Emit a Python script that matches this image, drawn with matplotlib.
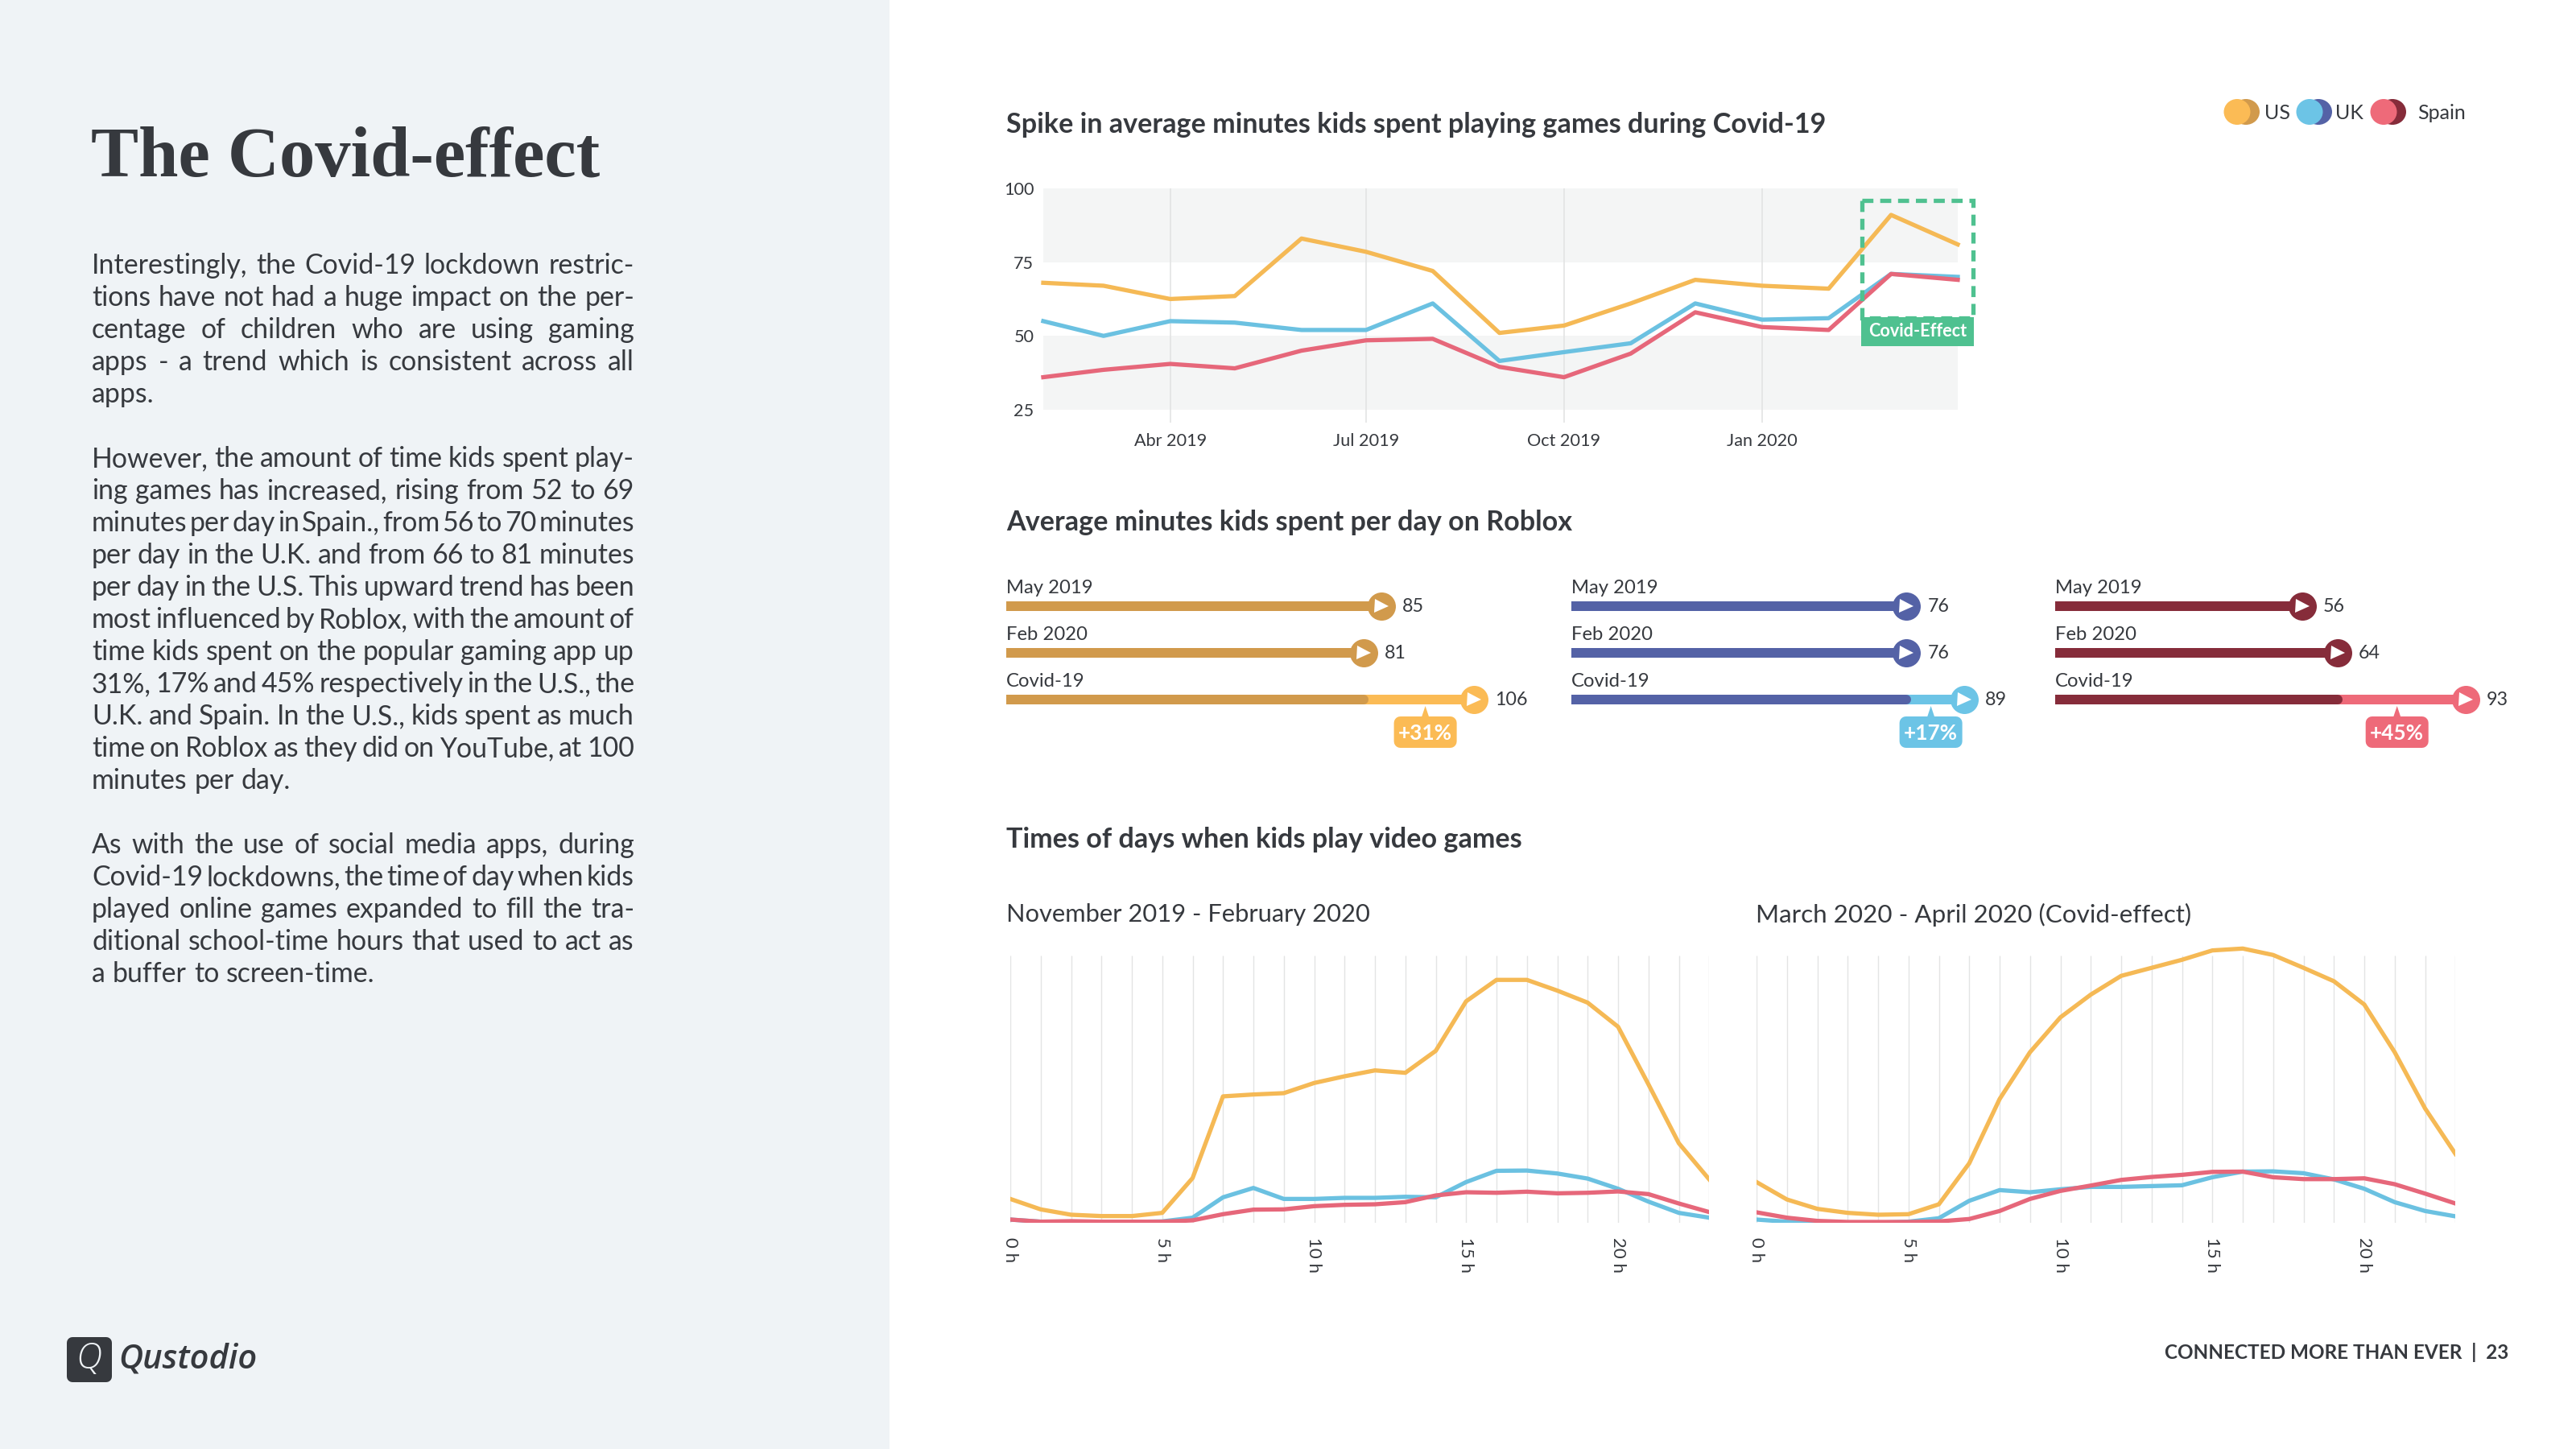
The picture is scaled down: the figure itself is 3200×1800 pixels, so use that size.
"""Qustodio report page: the Covid-effect on kids playing games."""
import matplotlib

matplotlib.use("Agg")
import matplotlib.pyplot as plt
import pandas as pd
from matplotlib.patches import Ellipse, FancyBboxPatch, Polygon, Rectangle

plt.rcParams["font.family"] = ["Lato", "DejaVu Sans"]

# monthly average minutes, line chart on top
months = pd.date_range("2019-02-01", "2020-04-01", freq="MS")
month_ticks = ["2019-04-01", "2019-07-01", "2019-10-01", "2020-01-01"]
month_tick_labels = ["Abr 2019", "Jul 2019", "Oct 2019", "Jan 2020"]
minutes_us = [68, 67, 62.5, 63.5, 83, 78.5, 72, 51, 53.5, 61, 69, 67, 66, 91, 81]
minutes_uk = [55, 50, 55, 54.5, 52, 52, 61, 41.5, 44.5, 47.5, 61, 55.5, 56, 71, 70]
minutes_es = [36, 38.5, 40.5, 39, 45, 48.5, 49, 39.5, 36, 44, 58, 53, 52, 71, 69]

# roblox bars
roblox_rows = ["May 2019", "Feb 2020", "Covid-19"]
roblox_us = [85, 81, 106]
roblox_uk = [76, 76, 89]
roblox_es = [56, 64, 93]
roblox_change = ["+31%", "+17%", "+45%"]

# time of day, index of activity per hour
hours = list(range(24))
hour_ticks = [0, 5, 10, 15, 20]
hour_tick_labels = ["0 h", "5 h", "10 h", "15 h", "20 h"]
before_us = [9.0, 5.1, 3.1, 2.6, 2.6, 3.8, 16.8, 47.3, 48, 48.5, 52.3, 54.8,
             57, 56.1, 64.3, 82.8, 90.8, 90.8, 86.8, 82.3, 73.3, 51.8, 29.8, 16.3]
before_uk = [1.3, 0.5, 0.5, 0.4, 0.4, 0.6, 2.0, 9.6, 13.1, 9, 9, 9.4,
             9.4, 9.8, 9.6, 15.3, 19.5, 19.6, 18.5, 16.6, 12.8, 8, 3.8, 2]
before_es = [1.3, 0.5, 0.7, 0.5, 0.5, 0.5, 1, 3.3, 5, 5.1, 6.3, 6.8,
             7, 7.8, 10.3, 11.5, 11.3, 11.7, 11.1, 11.3, 11.8, 10.8, 7.3, 4.1]
during_us = [15.3, 8.8, 5.3, 3.8, 3.1, 3.3, 7, 22.3, 46.3, 63.8, 76.8, 85.3,
             92.3, 95.3, 98.3, 101.8, 102.5, 100.1, 95.3, 90.3, 81.6, 63.8, 42.8, 25.8]
during_uk = [1.3, 0.5, 0.2, 0.1, 0.1, 0.5, 1.8, 8.3, 12.3, 11.5, 12.6, 13.5,
             13.5, 13.8, 14.1, 17.1, 19.2, 19.3, 18.6, 16.3, 12.8, 7.8, 4.5, 2.5]
during_es = [4, 2, 0.8, 0.4, 0.4, 0.4, 0.6, 1.5, 4.5, 9, 12, 14,
             16.1, 17.2, 18, 19.1, 19.2, 17.1, 16.4, 16.4, 16.7, 14.5, 11, 7.3]

paragraphs = [
    ["Interestingly, the Covid-19 lockdown restric-",
     "tions have not had a huge impact on the per-",
     "centage of children who are using gaming",
     "apps - a trend which is consistent across all",
     "apps."],
    ["However, the amount of time kids spent play-",
     "ing games has increased, rising from 52 to 69",
     "minutes per day in Spain., from 56 to 70 minutes",
     "per day in the U.K. and from 66 to 81 minutes",
     "per day in the U.S. This upward trend has been",
     "most influenced by Roblox, with the amount of",
     "time kids spent on the popular gaming app up",
     "31%, 17% and 45% respectively in the U.S., the",
     "U.K. and Spain. In the U.S., kids spent as much",
     "time on Roblox as they did on YouTube, at 100",
     "minutes per day."],
    ["As with the use of social media apps, during",
     "Covid-19 lockdowns, the time of day when kids",
     "played online games expanded to fill the tra-",
     "ditional school-time hours that used to act as",
     "a buffer to screen-time."],
]

INK = "#36393e"
GRID = "#e3e4e4"
BAND = "#f4f5f5"
US, UK, ES = "#f5b955", "#6bc1e1", "#e6677a"
US_DARK, UK_DARK, ES_DARK = "#d19a4c", "#5462a6", "#862c3a"
US_BAR, UK_BAR, ES_BAR = "#fbbb55", "#6cc4e6", "#ee6a79"
GREEN = "#4fc190"
PX = 0.36  # points per pixel at dpi 200

fig = plt.figure(figsize=(16, 9), dpi=200, facecolor="white")


def axes_px(left, top, right, bottom):
    ax = fig.add_axes([left / 3200, 1 - bottom / 1800,
                       (right - left) / 3200, (bottom - top) / 1800])
    ax.patch.set_alpha(0)
    for spine in ax.spines.values():
        spine.set_visible(False)
    return ax


# overlay in page pixels for text and furniture
page = axes_px(0, 0, 3200, 1800)
page.set_xlim(0, 3200)
page.set_ylim(1800, 0)
page.axis("off")
page.set_zorder(5)


def label(x, y, s, size=8.6, weight="normal", color=INK, ha="left", va="center", **kw):
    return page.text(x, y, s, fontsize=size, fontweight=weight, color=color, ha=ha, va=va, **kw)


# left panel
page.add_patch(Rectangle((0, 0), 1105, 1800, fc="#eff3f6", ec="none", zorder=0))
label(113, 218, "The Covid-effect", size=31.9, weight="bold", va="baseline",
      family=["Liberation Serif"])

renderer = fig.canvas.get_renderer()
TEXT_LEFT, TEXT_RIGHT, BODY_SIZE = 114, 788, 12.2
line_y = 330
for lines in paragraphs:
    for i, line in enumerate(lines):
        words = [label(TEXT_LEFT, line_y, w, size=BODY_SIZE) for w in line.split()]
        widths = [w.get_window_extent(renderer).width for w in words]
        if i == len(lines) - 1:
            gap = 9
        else:
            gap = (TEXT_RIGHT - TEXT_LEFT - sum(widths)) / (len(words) - 1)
        x = TEXT_LEFT
        for w, width in zip(words, widths):
            w.set_x(x)
            x += width + gap
        line_y += 40
    line_y += 40

# logo
page.add_patch(FancyBboxPatch((90, 1668), 42, 42, boxstyle="round,pad=0,rounding_size=0",
                              fc=INK, ec=INK, lw=14 * PX, joinstyle="round"))
label(110, 1688, "Q", size=16, color="#eff3f6", ha="center", style="italic",
      weight="light", family=["Open Sans"])
label(147, 1688, "Qustodio", size=15, weight="semibold", style="italic", family=["Open Sans"])

# footer
label(3116, 1680, "CONNECTED MORE THAN EVER  |  23", size=8.75, weight="bold", ha="right")

# section titles
TITLE_SIZE = 12.3
label(1250, 155, "Spike in average minutes kids spent playing games during Covid-19",
      size=TITLE_SIZE, weight="bold")
label(1250, 649, "Average minutes kids spent per day on Roblox", size=TITLE_SIZE, weight="bold")
label(1250, 1043, "Times of days when kids play video games", size=TITLE_SIZE, weight="bold")
label(1250, 1136, "November 2019 - February 2020", size=11.1)
label(2181, 1136, "March 2020 - April 2020 (Covid-effect)", size=11.3)

# legend
for x, name, tx, light, dark in [(2763, "US", 2813, US_BAR, US_DARK),
                                 (2853, "UK", 2901, UK_BAR, UK_DARK),
                                 (2945, "Spain", 3003, ES_BAR, ES_DARK)]:
    page.add_patch(Ellipse((x + 27, 139), 34, 32, fc=dark, ec="none"))
    page.add_patch(Ellipse((x + 16, 139), 33, 32, fc=light, ec="none"))
    label(tx, 141, name, size=9)

# line chart, months on a real date axis
ax = axes_px(1296, 234, 2432, 525)
ax.set_xlim(months[0], months[-1])
ax.set_ylim(20.6, 100)
ax.axhspan(25, 50, color=BAND, lw=0, zorder=0)
ax.axhspan(75, 100, color=BAND, lw=0, zorder=0)
ax.vlines(pd.to_datetime(month_ticks), 20.6, 100, color=GRID, lw=0.6, zorder=1)
for values, color in [(minutes_us, US), (minutes_uk, UK), (minutes_es, ES)]:
    ax.plot(months, values, color=color, lw=1.9, zorder=3, clip_on=False)
ax.set_xticks(pd.to_datetime(month_ticks), month_tick_labels)
ax.set_yticks([25, 50, 75, 100])
ax.tick_params(length=0, labelsize=7.8, labelcolor=INK)
ax.tick_params(axis="x", pad=4.5)
ax.tick_params(axis="y", pad=4.2)

# covid-effect marker box
page.add_patch(Rectangle((2313, 249), 138, 146, fc="none", ec=GREEN, lw=1.9,
                         linestyle=(0, (2.6, 1.6))))
page.add_patch(Rectangle((2312, 394), 140, 36, fc=GREEN, ec="none"))
label(2382, 411, "Covid-Effect", size=7.8, weight="bold", color="white", ha="center")

# roblox bars
SCALE = 5.48
panels = [(1250, roblox_us, US_DARK, US_BAR, 1.5),
          (1952, roblox_uk, UK_DARK, UK_BAR, -1),
          (2553, roblox_es, ES_DARK, ES_BAR, -1)]
for (left, values, dark, light, nudge), change in zip(panels, roblox_change):
    ax = axes_px(left, 720, left + 120 * SCALE, 900)
    ax.set_xlim(0, 120)
    ax.set_ylim((900 - 753) / 58, (720 - 753) / 58)
    ax.axis("off")
    bar_lw = 12 * PX
    for row, (name, value) in enumerate(zip(roblox_rows, values)):
        color = light if row == 2 else dark
        if row == 2:
            ax.plot([values[1], value], [row, row], color=light, lw=bar_lw,
                    solid_capstyle="round", zorder=2)
            ax.plot([0, values[1]], [row, row], color=dark, lw=bar_lw,
                    solid_capstyle="round", zorder=3)
        else:
            ax.plot([0, value], [row, row], color=dark, lw=bar_lw, solid_capstyle="round", zorder=2)
        ax.plot(value, row, "o", color=color, ms=35 * PX, mew=0, zorder=4, clip_on=False)
        ax.plot(value, row, ">", color="white", ms=17 * PX, mew=0, zorder=5, clip_on=False)
        ax.text(0, row - 0.39, name, fontsize=8.6, color=INK, va="center", ha="left")
        ax.annotate(str(value), (value, row), xytext=(26 * PX, 0), textcoords="offset points",
                    fontsize=8.4, color=INK, va="center", ha="left", annotation_clip=False)
    # callout below the covid bar
    cx = left + ((values[1] + values[2]) / 2 + nudge) * SCALE
    page.add_patch(FancyBboxPatch((cx - 31, 898), 62, 23, boxstyle="round,pad=0,rounding_size=0",
                                  fc=light, ec=light, lw=16 * PX, joinstyle="round"))
    page.add_patch(Polygon([(cx, 877), (cx - 5, 892), (cx + 5, 892)], fc=light, ec="none"))
    label(cx, 911, change, size=9.4, weight="bold", color="white", ha="center")

# time of day charts
for left, us, uk, es in [(1255, before_us, before_uk, before_es),
                         (2182, during_us, during_uk, during_es)]:
    ax = axes_px(left, 1170, left + 23 * 37.75, 1519.3)
    ax.set_xlim(0, 23)
    ax.set_ylim(0, 105)
    ax.vlines(hours, 0, 100, color=GRID, lw=0.5, zorder=1)
    for values, color in [(us, US), (uk, UK), (es, ES)]:
        ax.plot(hours, values, color=color, lw=1.9, zorder=3)
    ax.set_yticks([])
    ax.set_xticks(hour_ticks, hour_tick_labels, rotation=-90, ha="center", va="top")
    ax.tick_params(axis="x", length=0, pad=6.5, labelsize=8, labelcolor=INK)

fig.savefig("out.png", dpi=200)
